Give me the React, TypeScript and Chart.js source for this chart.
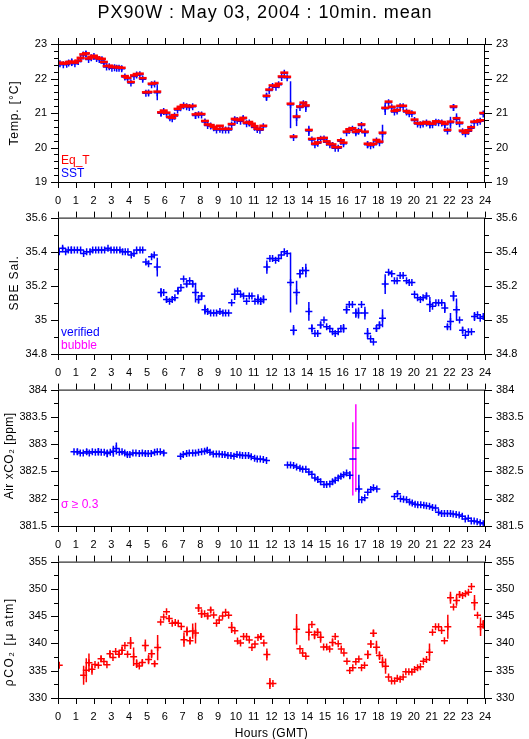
import React, { useEffect, useRef } from "react";
import { Chart, registerables } from "chart.js";
Chart.register(...registerables);

const FONT = '"Liberation Sans", Arial, Helvetica, sans-serif';
const BLUE = "#0000ff";
const RED = "#ff0000";
const MAGENTA = "#ff00ff";

const mainTitle = "PX90W : May 03, 2004 : 10min. mean";
const xTitle = "Hours (GMT)";
const hourLabels = ["0","1","2","3","4","5","6","7","8","9","10","11","12","13","14","15","16","17","18","19","20","21","22","23","24"];
const tempTicks = [19, 20, 21, 22, 23];
const salTicks = [34.8, 35, 35.2, 35.4, 35.6];
const airTicks = [381.5, 382, 382.5, 383, 383.5, 384];
const pco2Ticks = [330, 335, 340, 345, 350, 355];

// [hour, SST, sd]
const sstData = [
  [0.11,22.43,0],[0.30,22.40,0],[0.49,22.41,0],[0.60,22.45,0],[0.77,22.47,0.11],[0.95,22.43,0],[1.14,22.49,0],[1.27,22.57,0],[1.42,22.68,0],[1.57,22.71,0.09],
  [1.72,22.55,0],[1.87,22.60,0],[2.02,22.64,0],[2.17,22.58,0],[2.32,22.55,0],[2.47,22.54,0],[2.58,22.45,0.06],[2.73,22.33,0],[2.88,22.34,0],[3.03,22.30,0],
  [3.18,22.31,0],[3.30,22.30,0],[3.43,22.30,0],[3.58,22.28,0.07],[3.76,22.04,0],[3.91,21.99,0],[4.10,21.87,0],[4.27,22.06,0],[4.42,22.10,0],[4.60,22.11,0],
  [4.76,21.98,0.07],[4.94,21.57,0],[5.09,21.58,0.07],[5.26,21.82,0],[5.43,21.84,0],[5.58,21.59,0.22],[5.79,20.99,0.08],[5.94,21.04,0],[6.10,20.98,0],[6.29,20.86,0],
  [6.42,20.83,0],[6.55,20.91,0],[6.72,21.09,0],[6.89,21.15,0],[7.06,21.21,0],[7.23,21.18,0],[7.38,21.16,0],[7.57,21.18,0],[7.73,20.93,0.1],[7.90,20.95,0],
  [8.07,20.94,0],[8.26,20.74,0.07],[8.41,20.64,0],[8.58,20.62,0],[8.75,20.57,0],[8.91,20.51,0],[9.10,20.53,0],[9.25,20.51,0],[9.42,20.51,0],[9.59,20.51,0],
  [9.76,20.65,0],[9.93,20.80,0.1],[10.07,20.78,0],[10.26,20.76,0],[10.41,20.83,0.1],[10.60,20.69,0],[10.75,20.71,0],[10.90,20.66,0],[11.05,20.59,0],[11.20,20.52,0],
  [11.35,20.50,0],[11.54,20.60,0],[11.72,21.47,0.12],[11.87,21.65,0],[12.06,21.77,0],[12.25,21.75,0],[12.40,21.82,0],[12.57,22.03,0],[12.72,22.15,0],[12.88,22.02,0],
  [13.07,21.24,0.68],[13.24,20.29,0],[13.41,20.87,0.25],[13.60,21.16,0],[13.79,21.27,0],[13.93,21.19,0.16],[14.10,20.48,0.15],[14.27,20.22,0],[14.44,20.08,0],[14.60,20.12,0],
  [14.76,20.24,0],[14.95,20.25,0],[15.10,20.15,0],[15.28,20.08,0],[15.43,20.06,0],[15.58,19.98,0],[15.75,19.98,0],[15.90,20.18,0],[16.05,20.11,0.06],[16.22,20.43,0],
  [16.37,20.50,0],[16.55,20.53,0],[16.74,20.43,0.07],[16.89,20.47,0.07],[17.06,20.64,0],[17.25,20.43,0.12],[17.40,20.08,0.1],[17.57,20.05,0],[17.73,20.08,0],[17.90,20.19,0],
  [18.07,20.14,0],[18.24,20.40,0.26],[18.39,21.12,0.18],[18.58,21.30,0],[18.76,21.15,0],[18.91,21.03,0],[19.06,21.06,0],[19.23,21.18,0],[19.40,21.18,0],[19.59,21.03,0],
  [19.74,20.98,0],[19.89,20.98,0],[20.04,20.78,0],[20.21,20.68,0],[20.37,20.66,0],[20.52,20.68,0],[20.71,20.71,0],[20.90,20.66,0.1],[21.05,20.66,0],[21.24,20.73,0],
  [21.39,20.72,0],[21.57,20.71,0],[21.74,20.66,0.1],[21.89,20.48,0],[22.06,20.72,0.17],[22.23,21.16,0.1],[22.40,20.82,0.17],[22.57,20.69,0],[22.74,20.46,0],[22.90,20.40,0],
  [23.07,20.47,0],[23.22,20.56,0],[23.39,20.72,0],[23.58,20.73,0],[23.73,20.76,0],[23.90,20.97,0]
];

// [hour, Eq_T]
const eqtData = [
  [0.11,22.46],[0.30,22.43],[0.49,22.44],[0.60,22.48],[0.77,22.49],[0.95,22.46],[1.14,22.52],[1.27,22.60],[1.42,22.70],[1.57,22.73],
  [1.72,22.58],[1.87,22.63],[2.02,22.66],[2.17,22.61],[2.32,22.58],[2.47,22.57],[2.58,22.48],[2.73,22.36],[2.88,22.37],[3.03,22.33],
  [3.18,22.34],[3.30,22.33],[3.43,22.32],[3.58,22.31],[3.76,22.07],[3.91,22.02],[4.10,21.90],[4.27,22.09],[4.42,22.13],[4.60,22.14],
  [4.76,22.01],[4.94,21.60],[5.09,21.61],[5.26,21.85],[5.43,21.87],[5.58,21.62],[5.79,21.02],[5.94,21.07],[6.10,21.01],[6.29,20.89],
  [6.42,20.86],[6.55,20.94],[6.72,21.12],[6.89,21.18],[7.06,21.23],[7.23,21.21],[7.38,21.19],[7.57,21.21],[7.73,20.96],[7.90,20.98],
  [8.07,20.97],[8.26,20.77],[8.41,20.67],[8.58,20.65],[8.75,20.60],[8.91,20.54],[9.10,20.63],[9.25,20.54],[9.42,20.54],[9.59,20.54],
  [9.76,20.68],[9.93,20.83],[10.07,20.81],[10.26,20.79],[10.41,20.86],[10.60,20.72],[10.75,20.74],[10.90,20.69],[11.05,20.62],[11.20,20.55],
  [11.35,20.53],[11.54,20.63],[11.72,21.50],[11.87,21.68],[12.06,21.80],[12.25,21.78],[12.40,21.85],[12.57,22.06],[12.72,22.17],[12.88,22.05],
  [13.07,21.27],[13.24,20.32],[13.41,20.90],[13.60,21.19],[13.79,21.30],[13.93,21.22],[14.10,20.51],[14.27,20.25],[14.44,20.11],[14.60,20.15],
  [14.76,20.27],[14.95,20.28],[15.10,20.18],[15.28,20.11],[15.43,20.09],[15.58,20.01],[15.75,20.01],[15.90,20.21],[16.05,20.14],[16.22,20.46],
  [16.37,20.53],[16.55,20.56],[16.74,20.46],[16.89,20.50],[17.06,20.67],[17.25,20.46],[17.40,20.11],[17.57,20.08],[17.73,20.11],[17.90,20.22],
  [18.07,20.17],[18.24,20.43],[18.39,21.15],[18.58,21.33],[18.76,21.18],[18.91,21.06],[19.06,21.09],[19.23,21.21],[19.40,21.21],[19.59,21.06],
  [19.74,21.01],[19.89,21.01],[20.04,20.81],[20.21,20.71],[20.37,20.69],[20.52,20.71],[20.71,20.74],[20.90,20.69],[21.05,20.69],[21.24,20.76],
  [21.39,20.75],[21.57,20.74],[21.74,20.69],[21.89,20.51],[22.06,20.75],[22.23,21.19],[22.40,20.85],[22.57,20.72],[22.74,20.49],[22.90,20.43],
  [23.07,20.50],[23.22,20.59],[23.39,20.75],[23.58,20.76],[23.73,20.79],[23.90,21.00]
];

// [hour, salinity, sd]
const salData = [
  [0.07,35.40,0],[0.26,35.42,0.012],[0.43,35.40,0],[0.58,35.41,0],[0.75,35.41,0.02],[0.92,35.41,0],[1.09,35.41,0],[1.27,35.41,0],[1.44,35.39,0],[1.61,35.40,0],
  [1.80,35.40,0],[1.95,35.41,0],[2.12,35.41,0],[2.28,35.41,0],[2.45,35.41,0],[2.62,35.41,0],[2.81,35.42,0],[2.98,35.41,0],[3.15,35.41,0],[3.30,35.41,0],
  [3.48,35.41,0],[3.63,35.40,0],[3.78,35.40,0],[3.93,35.40,0],[4.12,35.38,0],[4.27,35.39,0],[4.42,35.41,0],[4.61,35.41,0],[4.76,35.41,0],[4.94,35.34,0],
  [5.09,35.33,0],[5.26,35.37,0],[5.41,35.38,0],[5.58,35.31,0.055],[5.79,35.16,0.027],[5.94,35.16,0],[6.10,35.12,0.018],[6.27,35.11,0],[6.42,35.12,0],[6.57,35.13,0],
  [6.74,35.17,0.02],[6.91,35.19,0],[7.06,35.24,0],[7.23,35.21,0.018],[7.40,35.23,0],[7.57,35.21,0.017],[7.73,35.16,0.058],[7.90,35.12,0.026],[8.07,35.14,0.022],[8.26,35.06,0.029],
  [8.41,35.05,0],[8.58,35.04,0],[8.75,35.04,0],[8.91,35.04,0],[9.10,35.05,0],[9.27,35.04,0],[9.42,35.04,0],[9.59,35.04,0],[9.76,35.10,0],[9.93,35.15,0.034],
  [10.09,35.17,0],[10.26,35.15,0],[10.43,35.14,0],[10.60,35.11,0],[10.75,35.14,0],[10.90,35.14,0],[11.07,35.11,0],[11.24,35.12,0.03],[11.39,35.11,0.023],[11.55,35.12,0.024],
  [11.74,35.31,0.039],[11.91,35.36,0],[12.06,35.36,0],[12.23,35.35,0],[12.40,35.36,0],[12.55,35.38,0],[12.72,35.40,0],[12.88,35.39,0],
  [13.07,35.22,0.176],[13.24,34.94,0.03],[13.41,35.16,0.07],[13.60,35.27,0.026],[13.75,35.29,0],[13.93,35.29,0.04],[14.10,35.05,0.055],[14.27,34.95,0.024],[14.44,34.92,0],[14.60,34.92,0],
  [14.76,34.97,0.02],[14.95,35.00,0],[15.10,34.96,0],[15.28,34.95,0],[15.43,34.93,0],[15.58,34.92,0],[15.75,34.93,0],[15.90,34.95,0],[16.05,34.95,0.026],[16.22,35.06,0.024],
  [16.37,35.09,0],[16.55,35.09,0],[16.74,35.04,0.027],[16.89,35.04,0.032],[17.06,35.09,0],[17.25,35.04,0.037],[17.40,34.92,0.032],[17.57,34.89,0],[17.73,34.87,0],[17.90,34.95,0.02],
  [18.07,34.97,0.02],[18.24,35.01,0.053],[18.39,35.21,0.058],[18.58,35.28,0],[18.76,35.27,0],[18.91,35.23,0],[19.06,35.23,0],[19.23,35.26,0],[19.40,35.26,0],[19.59,35.23,0],
  [19.74,35.22,0],[19.89,35.22,0],[20.04,35.15,0],[20.21,35.13,0],[20.37,35.12,0],[20.52,35.13,0],[20.71,35.14,0.02],[20.90,35.09,0.044],[21.05,35.08,0],[21.24,35.10,0],
  [21.39,35.10,0],[21.57,35.10,0],[21.74,35.07,0.03],[21.89,34.96,0.015],[22.06,34.99,0.05],[22.23,35.14,0.03],[22.40,35.06,0.065],[22.57,35.00,0],[22.74,34.94,0.02],[22.90,34.91,0],
  [23.07,34.93,0],[23.24,34.93,0],[23.41,35.02,0.026],[23.58,35.03,0],[23.73,35.01,0],[23.90,35.02,0]
];

// [hour, air xCO2, sd]
const airData = [
  [0.90,382.86,0],[1.09,382.86,0.055],[1.25,382.84,0],[1.42,382.84,0],[1.61,382.86,0.05],[1.76,382.84,0],[1.93,382.86,0],[2.10,382.85,0],[2.27,382.86,0.07],[2.43,382.85,0],
  [2.60,382.85,0],[2.77,382.83,0.07],[2.94,382.85,0],[3.11,382.87,0.1],[3.28,382.92,0.11],[3.45,382.85,0],[3.60,382.86,0],[3.75,382.84,0],[3.90,382.81,0.04],[4.04,382.81,0],
  [4.21,382.84,0],[4.38,382.84,0],[4.57,382.83,0],[4.74,382.84,0],[4.91,382.83,0.045],[5.07,382.83,0],[5.24,382.83,0],[5.43,382.85,0],[5.58,382.86,0],[5.75,382.86,0],
  [5.94,382.84,0.05],
  [6.89,382.78,0],[7.04,382.81,0],[7.23,382.83,0],[7.38,382.84,0],[7.57,382.84,0],[7.73,382.84,0],[7.90,382.85,0],[8.07,382.86,0],[8.24,382.87,0],[8.39,382.89,0.04],
  [8.54,382.85,0],[8.73,382.82,0],[8.90,382.82,0],[9.06,382.82,0],[9.23,382.81,0],[9.38,382.81,0],[9.55,382.79,0],[9.72,382.79,0],[9.89,382.78,0],[10.06,382.81,0],
  [10.22,382.80,0],[10.37,382.79,0],[10.54,382.79,0],[10.71,382.79,0],[10.86,382.77,0],[11.05,382.74,0],[11.20,382.73,0],[11.37,382.73,0],[11.54,382.72,0],[11.72,382.70,0],
  [12.90,382.62,0],[13.07,382.62,0],[13.24,382.61,0],[13.41,382.58,0],[13.60,382.56,0],[13.75,382.54,0],[13.93,382.54,0],[14.10,382.49,0],[14.27,382.45,0],[14.44,382.38,0],
  [14.60,382.35,0],[14.76,382.31,0],[14.95,382.26,0],[15.10,382.26,0],[15.28,382.27,0],[15.43,382.31,0],[15.58,382.34,0],[15.75,382.38,0],[15.90,382.41,0],[16.05,382.44,0],
  [16.22,382.47,0],[16.40,382.43,0.075],
  [16.91,382.18,0.26],[17.07,381.98,0],[17.24,382.02,0],[17.41,382.12,0],[17.58,382.17,0],[17.73,382.20,0],[17.92,382.18,0],
  [18.91,382.04,0],[19.08,382.09,0.04],[19.25,382.00,0],[19.42,381.99,0],[19.59,381.98,0],[19.76,381.94,0],[19.91,381.92,0],[20.07,381.90,0],[20.22,381.89,0],[20.39,381.89,0],
  [20.56,381.88,0],[20.71,381.87,0],[20.88,381.86,0],[21.05,381.84,0],[21.22,381.83,0],[21.39,381.75,0],[21.56,381.73,0],[21.72,381.73,0],[21.89,381.73,0],[22.06,381.73,0],
  [22.21,381.72,0],[22.38,381.71,0],[22.55,381.70,0],[22.72,381.68,0],[22.89,381.63,0],[23.06,381.64,0],[23.23,381.59,0],[23.39,381.59,0],[23.56,381.58,0],[23.73,381.56,0],
  [23.90,381.54,0]
];

// [hour, air xCO2, sd] with sd >= 0.3
const airFlagged = [[16.57,382.73,0.67],[16.74,382.93,0.80]];

// [hour, pCO2, sd]
const pco2Data = [
  [0.07,335.98,0],[1.44,334.17,1.75],[1.59,335.07,2.2],[1.74,336.46,1.7],[1.91,335.25,1.0],[2.08,336.16,0],[2.27,335.98,0],[2.42,337.19,0.55],[2.58,336.70,0],[2.75,336.10,0],
  [2.92,338.09,0.6],[3.09,337.43,0],[3.24,338.51,0],[3.43,338.03,0.6],[3.60,338.76,0.7],[3.76,339.60,0],[3.91,338.03,0],[4.08,340.08,1.1],[4.25,337.55,1.7],[4.42,336.28,0.8],
  [4.57,335.86,0],[4.74,336.52,0.55],[4.91,339.60,1.1],[5.09,337.07,0.9],[5.26,338.09,0.8],[5.43,336.28,0.5],[5.60,339.24,2.3],[5.77,343.95,0],[5.94,344.86,0],[6.10,345.82,0],
  [6.25,344.55,0.6],[6.42,343.71,0],[6.59,343.83,0],[6.76,343.71,0],[6.93,343.10,0],[7.08,340.69,1.3],[7.25,342.20,0.9],[7.42,340.51,0.7],[7.57,342.26,1.4],[7.73,341.90,1.9],
  [7.90,346.49,0.75],[8.07,345.46,0.8],[8.24,345.46,0],[8.41,345.04,0.6],[8.58,346.12,0.5],[8.75,345.22,0],[8.91,343.71,0],[9.06,344.31,0],[9.25,345.04,0],[9.42,345.70,0],
  [9.59,345.16,0],[9.76,342.92,1.0],[9.94,342.32,0],[10.09,340.45,0],[10.26,340.08,0],[10.43,341.29,0],[10.60,341.29,0],[10.75,340.63,0],[10.90,339.24,0],[11.07,339.90,0],
  [11.24,341.11,0],[11.40,341.29,0.6],[11.57,340.08,0],[11.74,337.97,1.1],[11.91,332.66,1.0],[12.08,332.66,0],
  [13.41,342.59,2.8],[13.60,339.04,0],[13.75,338.25,0],[13.93,337.65,0],[14.10,342.05,1.5],[14.27,343.49,0],[14.42,341.57,0.8],[14.59,342.05,0.75],[14.76,341.14,1.0],[14.93,339.34,0],
  [15.10,339.34,0],[15.27,338.98,0],[15.43,340.18,0.75],[15.58,341.27,0],[15.75,339.94,0],[15.92,338.98,0],[16.07,338.25,0],[16.24,336.75,0],[16.40,335.06,0],[16.57,335.54,0],
  [16.74,336.63,0],[16.91,337.17,0],[17.06,335.54,0],[17.23,336.02,0],[17.41,337.95,0.8],[17.58,339.88,0.7],[17.73,341.87,0.7],[17.90,339.28,1.2],[18.07,337.77,0.8],[18.24,336.57,1.0],
  [18.41,335.84,1.4],[18.58,333.86,0],[18.75,333.13,0],[18.92,333.13,0],[19.07,333.61,0],[19.23,333.43,0],[19.40,333.86,0],[19.55,334.82,0],[19.72,334.82,0],[19.89,334.76,0],
  [20.04,335.24,0],[20.21,335.54,0],[20.37,335.72,0],[20.54,336.75,0],[20.71,337.05,0],[20.88,338.37,1.6],[21.05,342.05,0],[21.22,343.07,0],[21.39,343.07,0],[21.56,342.35,0],
  [21.72,340.48,0],[21.91,343.07,2.2],[22.06,348.37,1.1],[22.23,346.69,0],[22.40,347.89,1.0],[22.57,348.98,0.6],[22.74,348.80,0],[22.90,349.10,0],[23.07,349.40,0],[23.24,350.42,0],
  [23.41,347.47,1.4],[23.58,345.18,0],[23.75,343.07,1.7],[23.90,343.49,0.8]
];

type Series = { data: number[][]; color: string; errColor?: string; style: string; radius: number; width: number };
type Note = { text: string; color: string; up: number };
type PanelCfg = {
  top: number; padTop: number; xH: number; min: number; max: number; step: number;
  labelled: number[]; yTitle: string; titleX: number; titleDy: number; titleSpacing: number;
  showXTitle?: boolean; series: Series[]; notes: Note[]; drawMain?: boolean;
};

const PLOT_H = 138;

const panels: PanelCfg[] = [
  {
    top: 0, padTop: 44, xH: 30, min: 19, max: 23, step: 0.2, labelled: tempTicks,
    yTitle: "Temp. [°C]", titleX: 18, titleDy: 0, titleSpacing: 0.9, drawMain: true,
    series: [
      { data: eqtData, color: RED, style: "line", radius: 4, width: 2.5 },
      { data: sstData, color: BLUE, errColor: BLUE, style: "cross", radius: 3.5, width: 1.5 },
    ],
    notes: [{ text: "Eq_T", color: RED, up: 18.5 }, { text: "SST", color: BLUE, up: 5 }],
  },
  {
    top: 200, padTop: 16, xH: 30, min: 34.8, max: 35.6, step: 0.1, labelled: salTicks,
    yTitle: "SBE Sal.", titleX: 18, titleDy: -3, titleSpacing: 0.9,
    series: [{ data: salData, color: BLUE, errColor: BLUE, style: "cross", radius: 3.5, width: 1.5 }],
    notes: [{ text: "verified", color: BLUE, up: 18.5 }, { text: "bubble", color: MAGENTA, up: 5.5 }],
  },
  {
    top: 372, padTop: 16, xH: 30, min: 381.5, max: 384, step: 0.25, labelled: airTicks,
    yTitle: "Air xCO₂ [ppm]", titleX: 13, titleDy: -2, titleSpacing: 0.5,
    series: [
      { data: airData, color: BLUE, errColor: BLUE, style: "cross", radius: 3.5, width: 1.5 },
      { data: airFlagged, color: BLUE, errColor: MAGENTA, style: "line", radius: 3.5, width: 1.5 },
    ],
    notes: [{ text: "σ ≥ 0.3", color: MAGENTA, up: 18.5 }],
  },
  {
    top: 544, padTop: 16, xH: 41, min: 330, max: 355, step: 2.5, labelled: pco2Ticks,
    yTitle: "ρCO₂ [μ atm]", titleX: 13, titleDy: 12, titleSpacing: 1.6, showXTitle: true,
    series: [{ data: pco2Data, color: RED, errColor: RED, style: "cross", radius: 3.5, width: 1.5 }],
    notes: [],
  },
];

function minorValues(p: PanelCfg) {
  const n = Math.round((p.max - p.min) / p.step);
  const out: number[] = [];
  for (let i = 0; i <= n; i++) out.push(+(p.min + i * p.step).toFixed(4));
  return out;
}
const isLabelled = (p: PanelCfg, v: number) => p.labelled.some((l) => Math.abs(l - v) < 1e-6);
const fmt = (v: number) => String(+v.toFixed(2));

function makeDecor(p: PanelCfg) {
  return {
    id: "decor",
    beforeDatasetsDraw(chart: any) {
      const { ctx, chartArea: a } = chart;
      const xs = chart.scales.x, ys = chart.scales.y;
      ctx.save();
      ctx.beginPath();
      ctx.rect(a.left, a.top, a.right - a.left, a.bottom - a.top);
      ctx.clip();
      p.series.forEach((s) => {
        if (!s.errColor) return;
        ctx.strokeStyle = s.errColor;
        ctx.lineWidth = 1.5;
        s.data.forEach((d) => {
          const e = d[2] || 0;
          if (!e) return;
          const x = xs.getPixelForValue(d[0]);
          ctx.beginPath();
          ctx.moveTo(x, ys.getPixelForValue(d[1] - e));
          ctx.lineTo(x, ys.getPixelForValue(d[1] + e));
          ctx.stroke();
        });
      });
      ctx.restore();
    },
    afterDraw(chart: any) {
      const { ctx, chartArea: a } = chart;
      const xs = chart.scales.x, ys = chart.scales.y;
      ctx.save();
      ctx.strokeStyle = "#000";
      ctx.lineWidth = 1;
      ctx.strokeRect(a.left + 0.5, a.top + 0.5, a.right - a.left - 1, a.bottom - a.top);
      ctx.beginPath();
      hourLabels.forEach((_, i) => {
        const x = Math.round(xs.getPixelForValue(i)) + 0.5;
        ctx.moveTo(x, a.bottom);
        ctx.lineTo(x, a.bottom + 6);
        ctx.moveTo(x, a.top);
        ctx.lineTo(x, a.top - 6);
      });
      minorValues(p).forEach((v) => {
        const y = Math.round(ys.getPixelForValue(v)) + 0.5;
        const len = isLabelled(p, v) ? 7 : 4;
        ctx.moveTo(a.left - len, y);
        ctx.lineTo(a.left, y);
        ctx.moveTo(a.right, y);
        ctx.lineTo(a.right + len, y);
      });
      ctx.stroke();

      // y-axis title
      ctx.fillStyle = "#000";
      ctx.font = "12px " + FONT;
      (ctx as any).letterSpacing = p.titleSpacing + "px";
      ctx.save();
      ctx.translate(p.titleX, (a.top + a.bottom) / 2 + p.titleDy);
      ctx.rotate(-Math.PI / 2);
      ctx.textAlign = "center";
      ctx.textBaseline = "alphabetic";
      ctx.fillText(p.yTitle, 0, 0);
      ctx.restore();

      if (p.showXTitle) {
        ctx.textAlign = "center";
        ctx.textBaseline = "alphabetic";
        (ctx as any).letterSpacing = "0.3px";
        ctx.fillText(xTitle, (a.left + a.right) / 2, a.bottom + 39);
      }

      (ctx as any).letterSpacing = "0px";
      ctx.font = "12px " + FONT;
      ctx.textAlign = "left";
      ctx.textBaseline = "alphabetic";
      p.notes.forEach((n) => {
        ctx.fillStyle = n.color;
        ctx.fillText(n.text, a.left + 3, a.bottom - n.up);
      });
      if (p.drawMain) {
        ctx.fillStyle = "#000";
        ctx.font = "18px " + FONT;
        (ctx as any).letterSpacing = "0.9px";
        ctx.textAlign = "center";
        ctx.fillText(mainTitle, 265, 18);
      }
      ctx.restore();
    },
  };
}

function buildConfig(p: PanelCfg): any {
  const vals = minorValues(p);
  const yTick = (pad: number) => ({
    autoSkip: false,
    padding: pad,
    color: "#000",
    font: { family: FONT, size: 11 },
    callback: (v: number) => (isLabelled(p, v) ? fmt(v) : ""),
  });
  return {
    type: "scatter",
    data: {
      datasets: p.series.map((s) => ({
        data: s.data.map((d) => ({ x: d[0], y: d[1] })),
        pointStyle: s.style,
        pointRadius: s.radius,
        pointBorderWidth: s.width,
        borderColor: s.color,
        backgroundColor: s.color,
        showLine: false,
        xAxisID: "x",
        yAxisID: "y",
      })),
    },
    options: {
      responsive: false,
      animation: false,
      events: [],
      layout: { padding: { top: p.padTop, left: 0, right: 0, bottom: 0 } },
      plugins: { legend: { display: false }, tooltip: { enabled: false }, title: { display: false } },
      scales: {
        x: {
          type: "linear",
          position: "bottom",
          min: 0,
          max: 24,
          afterBuildTicks: (s: any) => { s.ticks = hourLabels.map((_, i) => ({ value: i })); },
          ticks: {
            autoSkip: false, maxRotation: 0, padding: 12, color: "#000",
            font: { family: FONT, size: 11 },
            callback: (v: number) => hourLabels[Math.round(v)],
          },
          grid: { display: false, drawTicks: false },
          border: { display: false },
          afterFit: (s: any) => { s.height = p.xH; },
        },
        y: {
          type: "linear",
          position: "left",
          min: p.min,
          max: p.max,
          afterBuildTicks: (s: any) => { s.ticks = vals.map((v) => ({ value: v })); },
          ticks: yTick(11),
          grid: { display: false, drawTicks: false },
          border: { display: false },
          afterFit: (s: any) => { s.width = 58; },
        },
        y2: {
          type: "linear",
          position: "right",
          min: p.min,
          max: p.max,
          afterBuildTicks: (s: any) => { s.ticks = vals.map((v) => ({ value: v })); },
          ticks: yTick(11),
          grid: { display: false, drawTicks: false },
          border: { display: false },
          afterFit: (s: any) => { s.width = 44; },
        },
      },
    },
    plugins: [makeDecor(p)],
  };
}

function Panel({ cfg }: { cfg: PanelCfg }) {
  const ref = useRef<HTMLCanvasElement>(null);
  const h = cfg.padTop + PLOT_H + cfg.xH;
  useEffect(() => {
    const chart = new Chart(ref.current as HTMLCanvasElement, buildConfig(cfg));
    return () => chart.destroy();
  }, []);
  return (
    <canvas
      ref={ref}
      width={529}
      height={h}
      style={{ position: "absolute", left: 0, top: cfg.top, width: 529, height: h }}
    />
  );
}

export default function App() {
  return (
    <div style={{ position: "fixed", left: 0, top: 0, width: 529, height: 739, overflow: "hidden", background: "#fff" }}>
      {panels.map((p, i) => (
        <Panel key={i} cfg={p} />
      ))}
    </div>
  );
}
